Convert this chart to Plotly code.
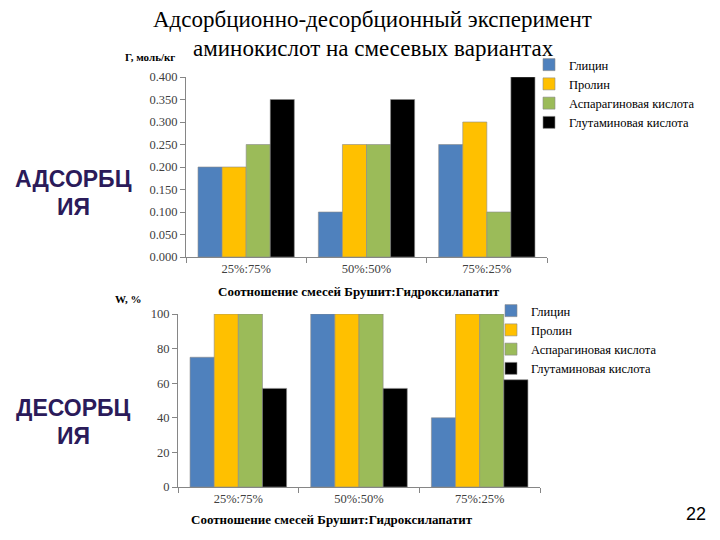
import plotly.graph_objects as go

categories = ["25%:75%", "50%:50%", "75%:25%"]
series_names = ["Глицин", "Пролин", "Аспарагиновая кислота", "Глутаминовая кислота"]
colors = ["#4F81BD", "#FFC000", "#9BBB59", "#000000"]

adsorption_glycine = [0.20, 0.10, 0.25]
adsorption_proline = [0.20, 0.25, 0.30]
adsorption_asparagine = [0.25, 0.25, 0.10]
adsorption_glutamine = [0.35, 0.35, 0.40]

desorption_glycine = [75, 100, 40]
desorption_proline = [100, 100, 100]
desorption_asparagine = [100, 100, 100]
desorption_glutamine = [57, 57, 62]

y1_ticks = [0.0, 0.05, 0.1, 0.15, 0.2, 0.25, 0.3, 0.35, 0.4]
y1_labels = ["0.000", "0.050", "0.100", "0.150", "0.200", "0.250", "0.300", "0.350", "0.400"]
y2_ticks = [0, 20, 40, 60, 80, 100]

ads = [adsorption_glycine, adsorption_proline, adsorption_asparagine, adsorption_glutamine]
des = [desorption_glycine, desorption_proline, desorption_asparagine, desorption_glutamine]

fig = go.Figure()
for name, vals, c in zip(series_names, ads, colors):
    fig.add_trace(go.Bar(x=categories, y=vals, name=name, marker=dict(color=c, line=dict(color="#8a8a8a", width=0.6)),
                         xaxis="x", yaxis="y", legend="legend"))
for name, vals, c in zip(series_names, des, colors):
    fig.add_trace(go.Bar(x=categories, y=vals, name=name, marker=dict(color=c, line=dict(color="#8a8a8a", width=0.6)),
                         xaxis="x2", yaxis="y2", legend="legend2"))

serif = "Liberation Serif, Times New Roman, DejaVu Serif, serif"
sans = "Liberation Sans, Arial, sans-serif"
tickfont = dict(family=serif, size=12.5, color="#404040")
axcommon = dict(showgrid=False, zeroline=False, showline=True, linecolor="#868686", linewidth=1,
                ticks="outside", tickcolor="#868686", ticklen=5, tickfont=tickfont)

fig.update_layout(
    width=720, height=540,
    margin=dict(l=0, r=0, t=0, b=0, autoexpand=False),
    paper_bgcolor="white", plot_bgcolor="white",
    barmode="group", bargap=0.2, bargroupgap=0,
    xaxis=dict(domain=[186/720, 547/720], anchor="y", tickson="boundaries", **axcommon),
    yaxis=dict(domain=[1 - 257/540, 1 - 77/540], anchor="x", range=[0, 0.4], tickvals=y1_ticks, ticktext=y1_labels, **axcommon),
    xaxis2=dict(domain=[178/720, 540/720], anchor="y2", tickson="boundaries", **axcommon),
    yaxis2=dict(domain=[1 - 487/540, 1 - 314/540], anchor="x2", range=[0, 100], tickvals=y2_ticks, **axcommon),
    legend=dict(x=529/720, y=1 - 50/540, xanchor="left", yanchor="top", font=dict(family=serif, size=12.5, color="black"),
                tracegroupgap=0, itemwidth=30, bgcolor="rgba(0,0,0,0)"),
    legend2=dict(x=491/720, y=1 - 296/540, xanchor="left", yanchor="top", font=dict(family=serif, size=12.5, color="black"),
                 tracegroupgap=0, itemwidth=30, bgcolor="rgba(0,0,0,0)"),
    font=dict(family=serif),
)

def note(text, x, y, size, family=serif, color="black"):
    fig.add_annotation(text=text, x=x/720, y=1 - y/540, xref="paper", yref="paper",
                       xanchor="center", yanchor="middle", showarrow=False,
                       font=dict(family=family, size=size, color=color))

note("Адсорбционно-десорбционный эксперимент", 372, 20, 23)
note("аминокислот на смесевых вариантах", 373, 48, 23)
purple = "#2B1B5A"
note("<b>АДСОРБЦ</b>", 73, 179, 23, sans, purple)
note("<b>ИЯ</b>", 73, 207, 23, sans, purple)
note("<b>ДЕСОРБЦ</b>", 73, 408, 23, sans, purple)
note("<b>ИЯ</b>", 73, 436, 23, sans, purple)
note("22", 696, 514, 18, sans)
note("<b>Г, моль/кг</b>", 150, 57, 11)
note("<b>W, %</b>", 128, 299, 11)
note("<b>Соотношение смесей Брушит:Гидроксилапатит</b>", 359, 291, 13)
note("<b>Соотношение смесей Брушит:Гидроксилапатит</b>", 332, 519, 13)

fig.write_html("out.html", config={"displayModeBar": False}, post_script="document.body.style.margin='0';")
